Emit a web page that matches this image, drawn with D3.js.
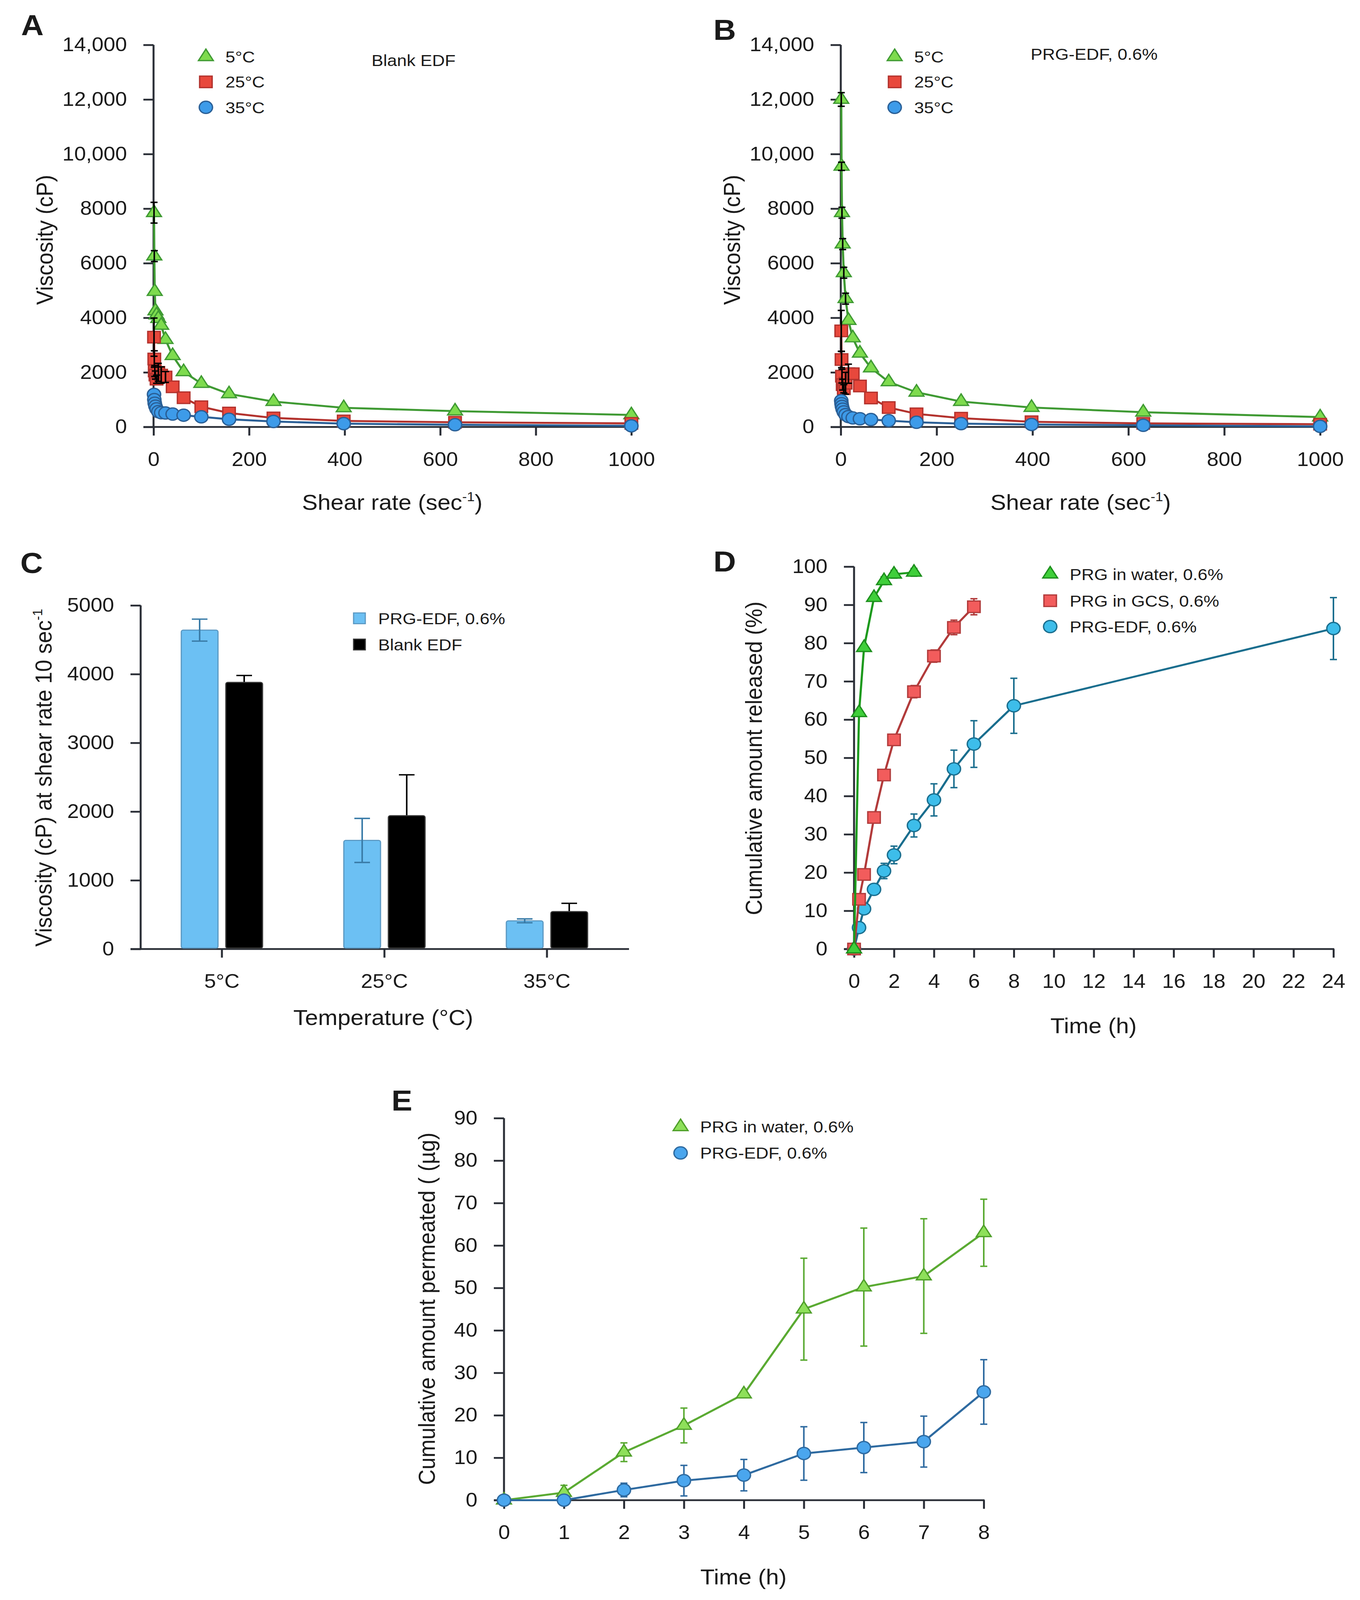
<!DOCTYPE html>
<html>
<head>
<meta charset="utf-8">
<script src="https://cdn.jsdelivr.net/npm/d3@7"></script>
<style>
  html, body { margin: 0; padding: 0; width: 100%; height: 100%; background: #fff; overflow: hidden; }
  svg { display: block; position: absolute; left: 0; top: 0; width: 100%; height: 100%; }
  svg text { font-family: "Liberation Sans", Arial, Helvetica, sans-serif; fill: #1a1a1a; }
</style>
</head>
<body>
<!-- drawn in 3481x4456 figure units; stretched to whatever viewport the browser gives -->
<svg id="fig" viewBox="0 0 3481 4456" preserveAspectRatio="none"></svg>
<script>
// ---- data ----

// panels A and B: viscosity vs shear rate
const shearRates = [1, 1.6, 2.5, 4, 6.3, 10, 16, 25, 40, 63, 100, 158, 251, 398, 631, 1000];
const blank5  = [7850, 6260, 4960, 4250, 4100, 3970, 3720, 3200, 2610, 2020, 1590, 1210, 930, 700, 580, 440];
const blank25 = [3290, 2490, 2050, 1900, 1750, 2000, 1900, 1830, 1470, 1070, 740, 510, 330, 220, 170, 130];
const blank35 = [1190, 1000, 870, 760, 660, 560, 520, 510, 470, 430, 370, 280, 200, 120, 80, 40];
const blank5Err  = [380, 200, 0, 0, 0, 0, 0, 0, 0, 0, 0, 0, 0, 0, 0, 0];
const blank25Err = [700, 300, 200, 150, 150, 330, 300, 200, 0, 0, 0, 0, 0, 0, 0, 0];
const prg5  = [12000, 9550, 7850, 6700, 5650, 4700, 3900, 3260, 2700, 2160, 1650, 1270, 930, 710, 540, 360];
const prg25 = [3520, 2470, 1860, 1550, 1400, 1600, 1950, 1950, 1500, 1060, 710, 480, 320, 190, 130, 100];
const prg35 = [960, 850, 750, 650, 550, 450, 380, 330, 300, 270, 230, 170, 120, 90, 60, 20];
const prg5Err  = [250, 150, 200, 200, 200, 200, 0, 0, 0, 0, 0, 0, 0, 0, 0, 0];
const prg25Err = [750, 300, 250, 200, 150, 400, 350, 0, 0, 0, 0, 0, 0, 0, 0, 0];
const tempLabels = ["5°C", "25°C", "35°C"];

// panel C: viscosity at 10 sec-1
const barPrgEdf = [4640, 1580, 410];
const barPrgEdfErr = [160, 320, 28];
const barBlank = [3880, 1940, 545];
const barBlankErr = [100, 595, 120];

// panel D: release
const waterT = [0, 0.25, 0.5, 1, 1.5, 2, 3];
const waterRel = [0, 61.8, 78.8, 91.9, 96.3, 98.0, 98.5];
const waterRelErr = [0, 0, 0, 0.8, 1, 1, 1];
const gcsT = [0, 0.25, 0.5, 1, 1.5, 2, 3, 4, 5, 6];
const gcsRel = [0, 13.0, 19.5, 34.4, 45.5, 54.7, 67.3, 76.6, 84.1, 89.5];
const gcsRelErr = [0, 0, 0.5, 0.8, 1, 1.3, 1.6, 1.6, 1.9, 2.1];
const edfT = [0, 0.25, 0.5, 1, 1.5, 2, 3, 4, 5, 6, 8, 24];
const edfRel = [0, 5.6, 10.5, 15.6, 20.4, 24.6, 32.3, 39.0, 47.1, 53.6, 63.6, 83.8];
const edfRelErr = [0, 0.5, 0.8, 1.3, 2.0, 2.3, 3.0, 4.2, 4.9, 6.1, 7.2, 8.1];

// panel E: permeation
const permHours = [0, 1, 2, 3, 4, 5, 6, 7, 8];
const waterPerm = [0, 1.8, 11.3, 17.6, 25.0, 45.0, 50.2, 52.8, 63.0];
const waterPermErr = [0, 1.7, 2.2, 4.1, 0.5, 12.0, 13.9, 13.5, 7.9];
const edfPerm = [0, 0, 2.4, 4.6, 5.9, 11.0, 12.4, 13.8, 25.5];
const edfPermErr = [0, 0, 1.6, 3.6, 3.7, 6.3, 5.9, 6.0, 7.6];

// ---- drawing ----
const AXIS = "#2a2e36";
const svg = d3.select("#fig");

function zip(xs, ys, es) {
  return xs.map((x, i) => ({ x: x, y: ys[i], e: es ? es[i] : 0 }));
}

// triangle path centred on its centroid
function triPath(w, h) {
  return `M0,${-h * 2 / 3}L${w / 2},${h / 3}L${-w / 2},${h / 3}Z`;
}

function marker(g, shape, fill, stroke) {
  if (shape === "tri") {
    g.append("path").attr("d", triPath(38, 32));
  } else if (shape === "sq") {
    g.append("rect").attr("x", -16).attr("y", -16).attr("width", 32).attr("height", 32);
  } else {
    g.append("circle").attr("r", 17);
  }
  g.selectAll("*").attr("fill", fill).attr("stroke", stroke).attr("stroke-width", 3.5);
}

function axes(x, y, xTicks, yTicks, yFmt, xFmt) {
  const [x0, x1] = x.range();
  const [y0, y1] = y.range();
  const gx = svg.append("g").attr("transform", `translate(0,${y0})`)
    .call(d3.axisBottom(x).tickValues(xTicks).tickFormat(xFmt || null)
      .tickSize(24).tickPadding(46).tickSizeOuter(0));
  const gy = svg.append("g").attr("transform", `translate(${x0},0)`)
    .call(d3.axisLeft(y).tickValues(yTicks).tickFormat(yFmt || d3.format("d"))
      .tickSize(26).tickPadding(42).tickSizeOuter(0));
  [gx, gy].forEach(g => {
    g.attr("font-family", null).attr("font-size", 54);
    g.select(".domain").remove();
    g.selectAll("line").attr("stroke", AXIS).attr("stroke-width", 5);
    g.selectAll("text").attr("fill", "#1a1a1a");
  });
  svg.append("line").attr("x1", x0 - 26).attr("x2", x1 + 2).attr("y1", y0).attr("y2", y0)
    .attr("stroke", AXIS).attr("stroke-width", 5);
  svg.append("line").attr("x1", x0).attr("x2", x0).attr("y1", y0 + 2).attr("y2", y1)
    .attr("stroke", AXIS).attr("stroke-width", 5);
}

function series(x, y, pts, s) {
  const line = d3.line().x(d => x(d.x)).y(d => y(d.y));
  svg.append("path").datum(pts).attr("d", line)
    .attr("fill", "none").attr("stroke", s.line).attr("stroke-width", 5.5)
    .attr("stroke-linejoin", "round");
  const drawErr = () => {
    const eg = svg.append("g").attr("stroke", s.err || s.line).attr("stroke-width", 4);
    pts.filter(d => d.e > 0).forEach(d => {
      const cx = x(d.x), top = y(d.y + d.e), bot = y(d.y - d.e);
      eg.append("line").attr("x1", cx).attr("x2", cx).attr("y1", top).attr("y2", bot);
      eg.append("line").attr("x1", cx - 9).attr("x2", cx + 9).attr("y1", top).attr("y2", top);
      eg.append("line").attr("x1", cx - 9).attr("x2", cx + 9).attr("y1", bot).attr("y2", bot);
    });
  };
  if (!s.errOnTop) drawErr();
  pts.forEach(d => {
    const g = svg.append("g").attr("transform", `translate(${x(d.x)},${y(d.y)})`);
    marker(g, s.shape, s.fill, s.stroke);
  });
  if (s.errOnTop) drawErr();
}

function legend(x0, rows, items) {
  items.forEach((it, i) => {
    const g = svg.append("g").attr("transform", `translate(${x0},${rows[i]})`);
    marker(g, it.shape, it.fill, it.stroke);
    svg.append("text").attr("x", x0 + 50).attr("y", rows[i]).attr("dy", "0.36em")
      .attr("font-size", 45).text(it.label);
  });
}

function yTitle(cx, cy, txt, sup) {
  const t = svg.append("text").attr("transform", `translate(${cx},${cy}) rotate(-90)`)
    .attr("text-anchor", "middle").attr("dy", "0.36em").attr("font-size", 60);
  t.append("tspan").text(txt);
  if (sup) {
    t.append("tspan").attr("font-size", 36).attr("dy", -24).text(sup);
  }
}

function xTitle(cx, by, txt, sup) {
  const t = svg.append("text").attr("x", cx).attr("y", by)
    .attr("text-anchor", "middle").attr("font-size", 60);
  t.append("tspan").text(txt);
  if (sup) {
    t.append("tspan").attr("font-size", 36).attr("dy", -24).text(sup);
    t.append("tspan").attr("dy", 24).text(")");
  }
}

function panelLetter(x, y, l) {
  svg.append("text").attr("x", x).attr("y", y).attr("font-size", 80)
    .attr("font-weight", "bold").text(l);
}

const viscFmt = d => d >= 10000 ? d3.format(",")(d) : String(d);
const viscTicks = d3.range(0, 14001, 2000);
const shearTicks = d3.range(0, 1001, 200);

const styleAB = {
  t5:  { shape: "tri", fill: "#7edb4e", stroke: "#3f9a33", line: "#3f9a33", err: "#000", errOnTop: true },
  t25: { shape: "sq",  fill: "#e8483c", stroke: "#b3322d", line: "#b3322d", err: "#000", errOnTop: true },
  t35: { shape: "ci",  fill: "#3d9be9", stroke: "#2a5f96", line: "#2a5f96", err: "#000", errOnTop: true }
};

function viscPanel(left, right, data, errs, letter, letterX, letterY, tag, tagX, tagY, legX, titleX) {
  const x = d3.scaleLinear().domain([0, 1000]).range([left, right]);
  const y = d3.scaleLinear().domain([0, 14000]).range([1189, 125]);
  axes(x, y, shearTicks, viscTicks, viscFmt, d3.format("d"));
  series(x, y, zip(shearRates, data[0], errs[0]), styleAB.t5);
  series(x, y, zip(shearRates, data[1], errs[1]), styleAB.t25);
  series(x, y, zip(shearRates, data[2], null), styleAB.t35);
  legend(legX, [158, 228, 299], [
    Object.assign({ label: "5°C" }, styleAB.t5),
    Object.assign({ label: "25°C" }, styleAB.t25),
    Object.assign({ label: "35°C" }, styleAB.t35)
  ]);
  svg.append("text").attr("x", tagX).attr("y", tagY).attr("dy", "0.36em")
    .attr("font-size", 45).text(tag);
  yTitle(left - 280, 668, "Viscosity (cP)");
  xTitle(titleX, 1420, "Shear rate (sec", "-1");
  panelLetter(letterX, letterY, letter);
}

// A
viscPanel(393, 1616, [blank5, blank25, blank35], [blank5Err, blank25Err], "A", 54, 98,
  "Blank EDF", 951, 168, 527, 1004);
// B
viscPanel(2152, 3379, [prg5, prg25, prg35], [prg5Err, prg25Err], "B", 1826, 111,
  "PRG-EDF, 0.6%", 2638, 150, 2290, 2766);

// C: grouped bars
(function () {
  const x = d3.scaleBand().domain(tempLabels).range([360, 1608]);
  const y = d3.scaleLinear().domain([0, 5000]).range([2643, 1686]);
  axes(x, y, tempLabels, d3.range(0, 5001, 1000));
  const bw = 94, off = 57;
  tempLabels.forEach((t, i) => {
    const cx = x(t) + x.bandwidth() / 2;
    // PRG-EDF bar
    const bx = cx - off;
    svg.append("rect").attr("x", bx - bw / 2).attr("y", y(barPrgEdf[i]))
      .attr("width", bw).attr("height", y(0) - y(barPrgEdf[i]) - 2.5).attr("rx", 5)
      .attr("fill", "#6cc0f3").attr("stroke", "#5b98c2").attr("stroke-width", 3);
    const et = y(barPrgEdf[i] + barPrgEdfErr[i]), eb = y(barPrgEdf[i] - barPrgEdfErr[i]);
    svg.append("line").attr("x1", bx).attr("x2", bx).attr("y1", et).attr("y2", eb)
      .attr("stroke", "#3a7ca8").attr("stroke-width", 4);
    [et, eb].forEach(v => svg.append("line").attr("x1", bx - 20).attr("x2", bx + 20)
      .attr("y1", v).attr("y2", v).attr("stroke", "#3a7ca8").attr("stroke-width", 4));
    // blank bar
    const kx = cx + off;
    const kt = y(barBlank[i] + barBlankErr[i]);
    svg.append("line").attr("x1", kx).attr("x2", kx).attr("y1", kt).attr("y2", y(barBlank[i]))
      .attr("stroke", "#000").attr("stroke-width", 4);
    svg.append("line").attr("x1", kx - 20).attr("x2", kx + 20).attr("y1", kt).attr("y2", kt)
      .attr("stroke", "#000").attr("stroke-width", 4);
    svg.append("rect").attr("x", kx - bw / 2).attr("y", y(barBlank[i]))
      .attr("width", bw).attr("height", y(0) - y(barBlank[i]) - 2.5).attr("rx", 5)
      .attr("fill", "#000").attr("stroke", "#3a3a3a").attr("stroke-width", 3);
  });
  const leg = [["PRG-EDF, 0.6%", "#6cc0f3", "#5b98c2"], ["Blank EDF", "#000", "#333"]];
  leg.forEach((l, i) => {
    const cy = [1722, 1795][i];
    svg.append("rect").attr("x", 905).attr("y", cy - 15).attr("width", 30).attr("height", 30)
      .attr("fill", l[1]).attr("stroke", l[2]).attr("stroke-width", 3);
    svg.append("text").attr("x", 968).attr("y", cy).attr("dy", "0.36em").attr("font-size", 45).text(l[0]);
  });
  yTitle(110, 2166, "Viscosity (cP) at shear rate 10 sec", "-1");
  xTitle(981, 2855, "Temperature (°C)");
  panelLetter(52, 1596, "C");
})();

// D: release profiles
(function () {
  const x = d3.scaleLinear().domain([0, 24]).range([2186, 3413]);
  const y = d3.scaleLinear().domain([0, 100]).range([2643, 1578]);
  axes(x, y, d3.range(0, 25, 2), d3.range(0, 101, 10), null, d3.format("d"));
  const sW = { shape: "tri", fill: "#3fcf3a", stroke: "#1d8f1d", line: "#1d9a1d" };
  const sG = { shape: "sq", fill: "#f25c5c", stroke: "#b23b3b", line: "#b23b3b" };
  const sE = { shape: "ci", fill: "#3dbdea", stroke: "#1a6e8e", line: "#1a6e8e" };
  series(x, y, zip(edfT, edfRel, edfRelErr), sE);
  series(x, y, zip(gcsT, gcsRel, gcsRelErr), sG);
  series(x, y, zip(waterT, waterRel, waterRelErr), sW);
  legend(2688, [1599, 1673, 1745], [
    Object.assign({ label: "PRG in water, 0.6%" }, sW),
    Object.assign({ label: "PRG in GCS, 0.6%" }, sG),
    Object.assign({ label: "PRG-EDF, 0.6%" }, sE)
  ]);
  yTitle(1928, 2112, "Cumulative amount released (%)");
  xTitle(2799, 2878, "Time (h)");
  panelLetter(1826, 1592, "D");
})();

// E: permeation profiles
(function () {
  const x = d3.scaleLinear().domain([0, 8]).range([1290, 2518]);
  const y = d3.scaleLinear().domain([0, 90]).range([4178, 3114]);
  axes(x, y, d3.range(0, 9, 1), d3.range(0, 91, 10), null, d3.format("d"));
  const sW = { shape: "tri", fill: "#8ee05a", stroke: "#4f9f2a", line: "#5aaa32" };
  const sE = { shape: "ci", fill: "#4aa6ee", stroke: "#2e6aa0", line: "#2e6aa0" };
  series(x, y, zip(permHours, waterPerm, waterPermErr), sW);
  series(x, y, zip(permHours, edfPerm, edfPermErr), sE);
  legend(1742, [3138, 3211], [
    Object.assign({ label: "PRG in water, 0.6%" }, sW),
    Object.assign({ label: "PRG-EDF, 0.6%" }, sE)
  ]);
  yTitle(1091, 3645, "Cumulative amount permeated ( (µg)");
  xTitle(1903, 4412, "Time (h)");
  panelLetter(1002, 3093, "E");
})();
</script>
</body>
</html>
